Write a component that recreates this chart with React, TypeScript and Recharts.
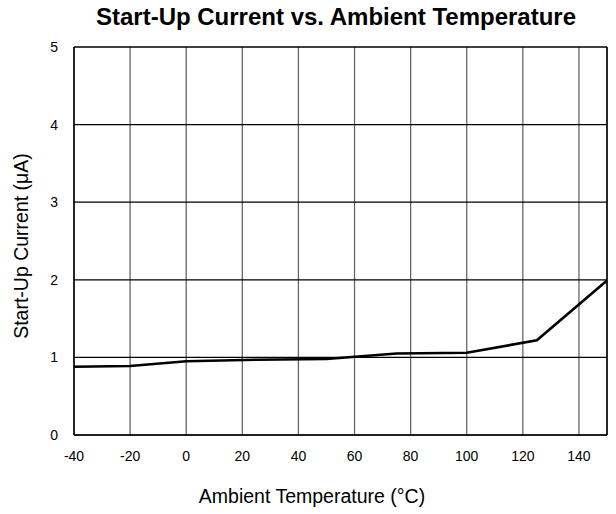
import React from 'react'
import {
  LineChart,
  Line,
  XAxis,
  YAxis,
  CartesianGrid,
  ReferenceLine
} from 'recharts'

const temps = [-40, -20, 0, 25, 50, 75, 100, 125, 150]
const current = [0.88, 0.89, 0.95, 0.97, 0.98, 1.05, 1.06, 1.22, 1.99]
const xTicks = [-40, -20, 0, 20, 40, 60, 80, 100, 120, 140]
const yTicks = [0, 1, 2, 3, 4, 5]

const data = temps.map((t, i) => ({ temp: t, current: current[i] }))

const FONT = '"Liberation Sans", Arial, sans-serif'
const tickStyle = { fill: '#000', fontSize: 14, fontFamily: FONT }

export default function App() {
  return (
    <div style={{ position: 'absolute', left: 0, top: 0, width: 616, height: 514, background: '#fff' }}>
      <LineChart width={616} height={514} data={data} margin={{ top: 47, right: 9, left: 0, bottom: 0 }}>
        <CartesianGrid horizontal={false} vertical stroke="#666" strokeWidth={1.3} />
        <CartesianGrid horizontal vertical={false} stroke="#000" strokeWidth={1.2} />
        <XAxis
          dataKey="temp"
          type="number"
          domain={[-40, 150]}
          ticks={xTicks}
          height={79}
          tickLine={false}
          tickMargin={10}
          axisLine={{ stroke: '#000', strokeWidth: 1.5 }}
          tick={tickStyle}
          allowDataOverflow
        />
        <YAxis
          type="number"
          domain={[0, 5]}
          ticks={yTicks}
          width={74}
          tickLine={false}
          tickMargin={10}
          axisLine={{ stroke: '#000', strokeWidth: 1.5 }}
          tick={tickStyle}
        />
        <ReferenceLine x={150} stroke="#000" strokeWidth={1.5} />
        <ReferenceLine y={5} stroke="#000" strokeWidth={1.2} />
        <Line
          type="linear"
          dataKey="current"
          stroke="#000"
          strokeWidth={2.6}
          dot={false}
          isAnimationActive={false}
        />
      </LineChart>
      {/* titles sit a bit off-centre in the original, so place them by hand */}
      <svg width={616} height={514} style={{ position: 'absolute', left: 0, top: 0, pointerEvents: 'none' }}>
        <text x={336} y={25} textAnchor="middle" fontFamily={FONT} fontWeight="bold" fontSize={24} fill="#000">
          Start-Up Current vs. Ambient Temperature
        </text>
        <text x={312} y={503} textAnchor="middle" fontFamily={FONT} fontSize={19.5} fill="#000">
          Ambient Temperature (°C)
        </text>
        <text
          x={28}
          y={246}
          textAnchor="middle"
          fontFamily={FONT}
          fontSize={19.5}
          fill="#000"
          transform="rotate(-90 28 246)"
        >
          Start-Up Current (μA)
        </text>
      </svg>
    </div>
  )
}
